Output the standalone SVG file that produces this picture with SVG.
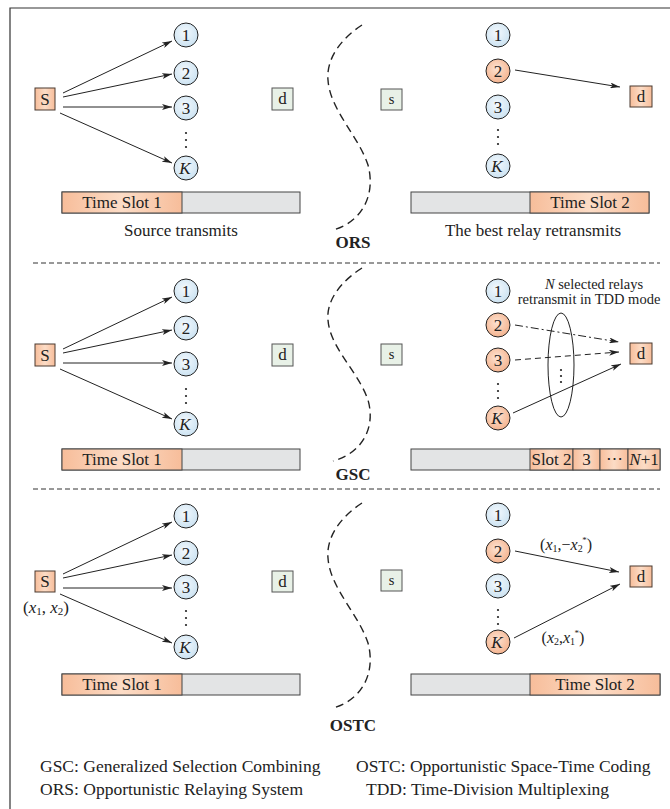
<svg xmlns="http://www.w3.org/2000/svg" width="670" height="809" viewBox="0 0 670 809">
  <defs>
    <linearGradient id="gOrange" x1="0" y1="0" x2="1" y2="0">
      <stop offset="0" stop-color="#f7bd9a"/>
      <stop offset="0.5" stop-color="#fcdcc6"/>
      <stop offset="1" stop-color="#f7bd9a"/>
    </linearGradient>
    <radialGradient id="gBlue" cx="0.45" cy="0.4" r="0.65">
      <stop offset="0" stop-color="#f4f9fd"/>
      <stop offset="1" stop-color="#c9e1f1"/>
    </radialGradient>
    <radialGradient id="gRelay" cx="0.45" cy="0.4" r="0.65">
      <stop offset="0" stop-color="#fde3d2"/>
      <stop offset="1" stop-color="#f4b08a"/>
    </radialGradient>
    <marker id="arr" viewBox="0 0 10 6" refX="10" refY="3" markerWidth="10" markerHeight="6" markerUnits="userSpaceOnUse" orient="auto">
      <path d="M0,0 L10,3 L0,6 L2.5,3 Z" fill="#222"/>
    </marker>
  </defs>
  <style>
    text { font-family: "Liberation Serif", "Times New Roman", serif; fill: #222; }
    .lbl { font-size: 17px; text-anchor: middle; }
    .num { font-size: 17px; text-anchor: middle; }
    .it { font-style: italic; }
    .title { font-size: 17px; font-weight: bold; text-anchor: middle; }
    .leg { font-size: 17.5px; }
    .small { font-size: 14.5px; text-anchor: middle; }
    .code { font-size: 16px; text-anchor: middle; }
    .box-o { fill: url(#gOrange); stroke: #4a3a30; stroke-width: 1; }
    .box-g { fill: #e8f1e7; stroke: #555; stroke-width: 1; }
    .bar-g { fill: #e3e4e5; stroke: #444; stroke-width: 1; }
    .bar-o { fill: url(#gOrange); stroke: #444; stroke-width: 1; }
    .relay { fill: url(#gBlue); stroke: #222; stroke-width: 1; }
    .relay-on { fill: url(#gRelay); stroke: #222; stroke-width: 1; }
    .dot { fill: #222; }
    .link { stroke: #222; stroke-width: 1; fill: none; marker-end: url(#arr); }
    .curve { stroke: #222; stroke-width: 1.4; fill: none; stroke-dasharray: 8 5; }
    .sep { stroke: #333; stroke-width: 1; stroke-dasharray: 5 3; }
    .frame { stroke: #333; stroke-width: 1.2; fill: none; }
  </style>

  <rect width="670" height="809" fill="#ffffff"/>
  <path class="frame" d="M10,809 V8 H670"/>

  <!-- section separators -->
  <line class="sep" x1="33" y1="263" x2="660" y2="263"/>
  <line class="sep" x1="33" y1="489" x2="660" y2="489"/>

  <!-- dashed S-shaped dividers between the two time slots -->
  <path class="curve" d="M362,25 C342,38 326,58 328,80 C330,110 358,135 368,165 C376,195 362,222 333,230"/>
  <path class="curve" d="M362,268 C343,280 326,299 328,320 C330,348 358,371 368,400 C376,428 362,453 333,461"/>
  <path class="curve" d="M362,503 C342,516 326,536 328,558 C330,588 358,613 368,643 C376,673 362,700 333,708"/>

  <g id="connectors">
    <!-- ORS -->
    <line class="link" x1="63" y1="93" x2="172" y2="41"/>
    <line class="link" x1="63" y1="97" x2="172" y2="74"/>
    <line class="link" x1="63" y1="107" x2="172" y2="107"/>
    <line class="link" x1="60" y1="113" x2="172" y2="163"/>
    <line class="link" x1="515" y1="70" x2="620" y2="87"/>
    <!-- GSC -->
    <line class="link" x1="63" y1="349" x2="172" y2="297"/>
    <line class="link" x1="63" y1="353" x2="172" y2="330"/>
    <line class="link" x1="63" y1="363" x2="172" y2="363"/>
    <line class="link" x1="60" y1="369" x2="172" y2="419"/>
    <line class="link" x1="515" y1="325" x2="619" y2="342" stroke-dasharray="8 3 2 3"/>
    <line class="link" x1="515" y1="360" x2="619" y2="352" stroke-dasharray="6 4"/>
    <line class="link" x1="513" y1="413" x2="621" y2="364"/>
    <!-- OSTC -->
    <line class="link" x1="63" y1="574" x2="172" y2="522"/>
    <line class="link" x1="63" y1="578" x2="172" y2="555"/>
    <line class="link" x1="63" y1="588" x2="172" y2="588"/>
    <line class="link" x1="60" y1="594" x2="172" y2="643"/>
    <line class="link" x1="515" y1="551" x2="619" y2="572"/>
    <line class="link" x1="514" y1="638" x2="620" y2="584"/>
  </g>

  <!-- ===== ORS ===== -->
  <g id="ors-s">
    <rect class="box-o" x="35" y="88" width="20" height="22"/>
    <text class="num" x="45" y="105">S</text>
  </g>
  <g id="ors-relays-left">
    <circle class="relay" cx="186" cy="35" r="12"/><text class="num" x="186" y="41">1</text>
    <circle class="relay" cx="186" cy="73" r="12"/><text class="num" x="186" y="79">2</text>
    <circle class="relay" cx="186" cy="108" r="12"/><text class="num" x="186" y="114">3</text>
    <circle class="dot" cx="186" cy="133" r="1.1"/><circle class="dot" cx="186" cy="140" r="1.1"/><circle class="dot" cx="186" cy="147" r="1.1"/>
    <circle class="relay" cx="186" cy="168" r="12"/><text class="num it" x="185" y="174">K</text>
  </g>
  <g id="ors-d-left">
    <rect class="box-g" x="272" y="88" width="21" height="22"/>
    <text class="num" x="282.5" y="104">d</text>
  </g>
  <g id="ors-slot-left">
    <rect class="bar-g" x="62" y="192" width="238" height="21"/>
    <rect class="bar-o" x="62" y="192" width="120" height="21"/>
    <text class="lbl" x="122" y="208">Time Slot 1</text>
    <text class="lbl" x="181" y="236">Source transmits</text>
  </g>
  <g id="ors-s-right">
    <rect class="box-g" x="381" y="89" width="21" height="21"/>
    <text class="small" x="391.5" y="104">s</text>
  </g>
  <g id="ors-relays-right">
    <circle class="relay" cx="498" cy="35" r="12"/><text class="num" x="498" y="41">1</text>
    <circle class="relay-on" cx="498" cy="71" r="12"/><text class="num" x="498" y="77">2</text>
    <circle class="relay" cx="498" cy="107" r="12"/><text class="num" x="498" y="113">3</text>
    <circle class="dot" cx="498" cy="130" r="1.1"/><circle class="dot" cx="498" cy="137" r="1.1"/><circle class="dot" cx="498" cy="144" r="1.1"/>
    <circle class="relay" cx="498" cy="166" r="12"/><text class="num it" x="497" y="172">K</text>
  </g>
  <g id="ors-d-right">
    <rect class="box-o" x="630" y="86" width="22" height="21"/>
    <text class="num" x="641" y="102">d</text>
  </g>
  <g id="ors-slot-right">
    <rect class="bar-g" x="411" y="192" width="238" height="21"/>
    <rect class="bar-o" x="530" y="192" width="119" height="21"/>
    <text class="lbl" x="590" y="208">Time Slot 2</text>
    <text class="lbl" x="533" y="236">The best relay retransmits</text>
  </g>
  <g id="ors-title">
    <text class="title" x="353" y="248">ORS</text>
  </g>

  <!-- ===== GSC ===== -->
  <g id="gsc-s">
    <rect class="box-o" x="35" y="344" width="20" height="22"/>
    <text class="num" x="45" y="361">S</text>
  </g>
  <g id="gsc-relays-left">
    <circle class="relay" cx="186" cy="291" r="12"/><text class="num" x="186" y="297">1</text>
    <circle class="relay" cx="186" cy="328" r="12"/><text class="num" x="186" y="334">2</text>
    <circle class="relay" cx="186" cy="364" r="12"/><text class="num" x="186" y="370">3</text>
    <circle class="dot" cx="186" cy="389" r="1.1"/><circle class="dot" cx="186" cy="396" r="1.1"/><circle class="dot" cx="186" cy="403" r="1.1"/>
    <circle class="relay" cx="186" cy="424" r="12"/><text class="num it" x="185" y="430">K</text>
  </g>
  <g id="gsc-d-left">
    <rect class="box-g" x="272" y="344" width="21" height="22"/>
    <text class="num" x="282.5" y="360">d</text>
  </g>
  <g id="gsc-slot-left">
    <rect class="bar-g" x="62" y="449" width="238" height="21"/>
    <rect class="bar-o" x="62" y="449" width="120" height="21"/>
    <text class="lbl" x="122" y="465">Time Slot 1</text>
  </g>
  <g id="gsc-s-right">
    <rect class="box-g" x="381" y="344" width="21" height="21"/>
    <text class="small" x="391.5" y="359">s</text>
  </g>
  <g id="gsc-relays-right">
    <circle class="relay" cx="498" cy="291" r="12"/><text class="num" x="498" y="297">1</text>
    <circle class="relay-on" cx="498" cy="325" r="12"/><text class="num" x="498" y="331">2</text>
    <circle class="relay-on" cx="498" cy="360" r="12"/><text class="num" x="498" y="366">3</text>
    <circle class="dot" cx="498" cy="384" r="1.1"/><circle class="dot" cx="498" cy="391" r="1.1"/><circle class="dot" cx="498" cy="398" r="1.1"/>
    <circle class="relay-on" cx="498" cy="418" r="12"/><text class="num it" x="497" y="424">K</text>
  </g>
  <g id="gsc-selection">
    <ellipse cx="561" cy="365" rx="13" ry="52" fill="none" stroke="#222" stroke-width="1"/>
    <circle class="dot" cx="561" cy="370" r="1.1"/><circle class="dot" cx="561" cy="376" r="1.1"/><circle class="dot" cx="561" cy="382" r="1.1"/>
    <text class="small" x="594" y="289"><tspan class="it">N</tspan> selected relays</text>
    <text class="small" x="589" y="304">retransmit in TDD mode</text>
  </g>
  <g id="gsc-d-right">
    <rect class="box-o" x="630" y="343" width="22" height="21"/>
    <text class="num" x="641" y="359">d</text>
  </g>
  <g id="gsc-slot-right">
    <rect class="bar-g" x="411" y="449" width="249" height="21"/>
    <rect class="bar-o" x="530" y="449" width="43" height="21"/>
    <rect class="bar-o" x="573" y="449" width="27" height="21"/>
    <rect class="bar-o" x="600" y="449" width="28" height="21"/>
    <rect class="bar-o" x="628" y="449" width="32" height="21"/>
    <text class="lbl" x="551.5" y="465">Slot 2</text>
    <text class="lbl" x="586.5" y="465">3</text>
    <text class="lbl" x="614" y="464">⋯</text>
    <text class="lbl" x="644" y="465"><tspan class="it">N</tspan>+1</text>
  </g>
  <g id="gsc-title">
    <text class="title" x="353" y="480">GSC</text>
  </g>

  <!-- ===== OSTC ===== -->
  <g id="ostc-s">
    <rect class="box-o" x="35" y="571" width="20" height="21"/>
    <text class="num" x="45" y="587">S</text>
    <text class="lbl" x="46" y="613">(<tspan class="it">x</tspan><tspan font-size="11" dy="2">1</tspan><tspan dy="-2">, </tspan><tspan class="it">x</tspan><tspan font-size="11" dy="2">2</tspan><tspan dy="-2">)</tspan></text>
  </g>
  <g id="ostc-relays-left">
    <circle class="relay" cx="186" cy="516" r="12"/><text class="num" x="186" y="522">1</text>
    <circle class="relay" cx="186" cy="553" r="12"/><text class="num" x="186" y="559">2</text>
    <circle class="relay" cx="186" cy="587" r="12"/><text class="num" x="186" y="593">3</text>
    <circle class="dot" cx="186" cy="611" r="1.1"/><circle class="dot" cx="186" cy="618" r="1.1"/><circle class="dot" cx="186" cy="625" r="1.1"/>
    <circle class="relay" cx="186" cy="647" r="12"/><text class="num it" x="185" y="653">K</text>
  </g>
  <g id="ostc-d-left">
    <rect class="box-g" x="272" y="571" width="21" height="21"/>
    <text class="num" x="282.5" y="587">d</text>
  </g>
  <g id="ostc-slot-left">
    <rect class="bar-g" x="62" y="674" width="238" height="21"/>
    <rect class="bar-o" x="62" y="674" width="120" height="21"/>
    <text class="lbl" x="122" y="690">Time Slot 1</text>
  </g>
  <g id="ostc-s-right">
    <rect class="box-g" x="381" y="570" width="21" height="21"/>
    <text class="small" x="391.5" y="585">s</text>
  </g>
  <g id="ostc-relays-right">
    <circle class="relay" cx="498" cy="515" r="12"/><text class="num" x="498" y="521">1</text>
    <circle class="relay-on" cx="498" cy="551" r="12"/><text class="num" x="498" y="557">2</text>
    <circle class="relay" cx="498" cy="586" r="12"/><text class="num" x="498" y="592">3</text>
    <circle class="dot" cx="498" cy="610" r="1.1"/><circle class="dot" cx="498" cy="617" r="1.1"/><circle class="dot" cx="498" cy="624" r="1.1"/>
    <circle class="relay-on" cx="498" cy="642" r="12"/><text class="num it" x="497" y="648">K</text>
  </g>
  <g id="ostc-codes">
    <text class="code" x="566" y="550">(<tspan class="it">x</tspan><tspan font-size="10" dy="2">1</tspan><tspan dy="-2">,−</tspan><tspan class="it">x</tspan><tspan font-size="10" dy="2">2</tspan><tspan font-size="9" dx="-0.5" dy="-9">*</tspan><tspan dy="7">)</tspan></text>
    <text class="code" x="563" y="643">(<tspan class="it">x</tspan><tspan font-size="10" dy="2">2</tspan><tspan dy="-2">,</tspan><tspan class="it">x</tspan><tspan font-size="10" dy="2">1</tspan><tspan font-size="9" dx="-0.5" dy="-9">*</tspan><tspan dy="7">)</tspan></text>
  </g>
  <g id="ostc-d-right">
    <rect class="box-o" x="630" y="566" width="22" height="21"/>
    <text class="num" x="641" y="582">d</text>
  </g>
  <g id="ostc-slot-right">
    <rect class="bar-g" x="411" y="674" width="249" height="21"/>
    <rect class="bar-o" x="530" y="674" width="130" height="21"/>
    <text class="lbl" x="595" y="690">Time Slot 2</text>
  </g>
  <g id="ostc-title">
    <text class="title" x="353" y="731">OSTC</text>
  </g>

  <!-- abbreviations -->
  <g id="legend">
    <text class="leg" x="40" y="772">GSC: Generalized Selection Combining</text>
    <text class="leg" x="40" y="795">ORS: Opportunistic Relaying System</text>
    <text class="leg" x="356" y="772">OSTC: Opportunistic Space-Time Coding</text>
    <text class="leg" x="366" y="795">TDD: Time-Division Multiplexing</text>
  </g>
</svg>
